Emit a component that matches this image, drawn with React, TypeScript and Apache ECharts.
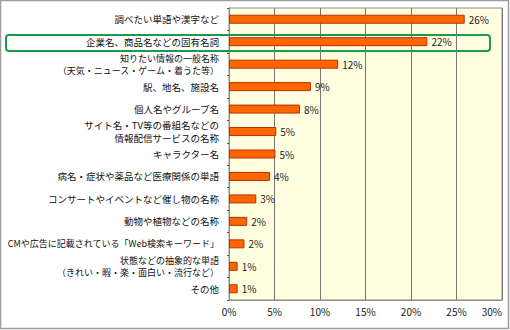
import React, { useEffect, useRef } from "react";
import * as echarts from "echarts";

const categories = [
  "調べたい単語や漢字など",
  "企業名、商品名などの固有名詞",
  "知りたい情報の一般名称\n（天気・ニュース・ゲーム・着うた等）",
  "駅、地名、施設名",
  "個人名やグループ名",
  "サイト名・TV等の番組名などの\n情報配信サービスの名称",
  "キャラクター名",
  "病名・症状や薬品など医療関係の単語",
  "コンサートやイベントなど催し物の名称",
  "動物や植物などの名称",
  "CMや広告に記載されている「Web検索キーワード」",
  "状態などの抽象的な単語\n（きれい・暇・楽・面白い・流行など）",
  "その他",
];
const values = [25.9, 21.8, 12.0, 9.0, 7.8, 5.2, 5.1, 4.5, 3.0, 2.0, 1.7, 0.95, 0.95];
const valueLabels = ["26%", "22%", "12%", "9%", "8%", "5%", "5%", "4%", "3%", "2%", "2%", "1%", "1%"];
const xTicks = ["0%", "5%", "10%", "15%", "20%", "25%", "30%"];

const FONT = "'Noto Sans CJK JP', sans-serif";

export default function App() {
  const ref = useRef<HTMLDivElement>(null);
  useEffect(() => {
    if (!ref.current) return;
    const chart = echarts.init(ref.current, undefined, { renderer: "svg" });
    const catData = categories.map((c) => {
      if (c.indexOf("Web") >= 0 || c.indexOf("（") >= 0)
        return { value: c, textStyle: { fontSize: 9, lineHeight: 12 } };
      if (c.indexOf("\n") >= 0)
        return { value: c, textStyle: { fontSize: 9.5, lineHeight: 13 } };
      return c;
    });
    chart.setOption({
      animation: false,
      backgroundColor: "#ffffff",
      grid: {
        left: 229,
        right: 8,
        top: 8,
        bottom: 30,
        outerBoundsMode: "none",
        containLabel: false,
        show: true,
        backgroundColor: "#ffffe0",
        borderColor: "#8c8c8c",
        borderWidth: 1,
      },
      xAxis: {
        type: "value",
        min: 0,
        max: 30,
        interval: 5,
        axisLine: { show: true, lineStyle: { color: "#8c8c8c" } },
        axisTick: { show: false },
        splitLine: { show: true, lineStyle: { color: "#777777", width: 1 } },
        axisLabel: {
          fontFamily: FONT,
          fontSize: 10,
          color: "#222",
          margin: 6,
          alignMaxLabel: "right",
          formatter: (v: number) => xTicks[Math.round(v / 5)],
        },
      },
      yAxis: {
        type: "category",
        data: catData,
        inverse: true,
        axisLine: { show: true, lineStyle: { color: "#8c8c8c" } },
        axisTick: { show: true, length: 2, lineStyle: { color: "#555" } },
        axisLabel: {
          fontFamily: FONT,
          fontSize: 9.5,
          lineHeight: 12,
          color: "#111",
          margin: 10,
          align: "right",
        },
      },
      series: [
        {
          type: "bar",
          data: values,
          barWidth: 9,
          itemStyle: { color: "#ff6600", borderColor: "#b83000", borderWidth: 1 },
          label: {
            show: true,
            position: "right",
            distance: 4,
            fontFamily: FONT,
            fontSize: 10,
            color: "#222",
            formatter: (p: any) => valueLabels[p.dataIndex],
          },
        },
      ],
      graphic: [
        {
          type: "rect",
          shape: { x: 0.5, y: 0.5, width: 508, height: 328 },
          style: { fill: "none", stroke: "#a09ca0", lineWidth: 1.5 },
          silent: true,
        },
        {
          type: "rect",
          shape: { x: 6, y: 35, width: 484, height: 16, r: 3 },
          style: { fill: "none", stroke: "#1a9a4a", lineWidth: 2 },
          silent: true,
          z: 100,
        },
      ],
    });
    return () => chart.dispose();
  }, []);
  return (
    <div
      ref={ref}
      style={{ position: "fixed", left: 0, top: 0, width: 510, height: 330 }}
    />
  );
}
